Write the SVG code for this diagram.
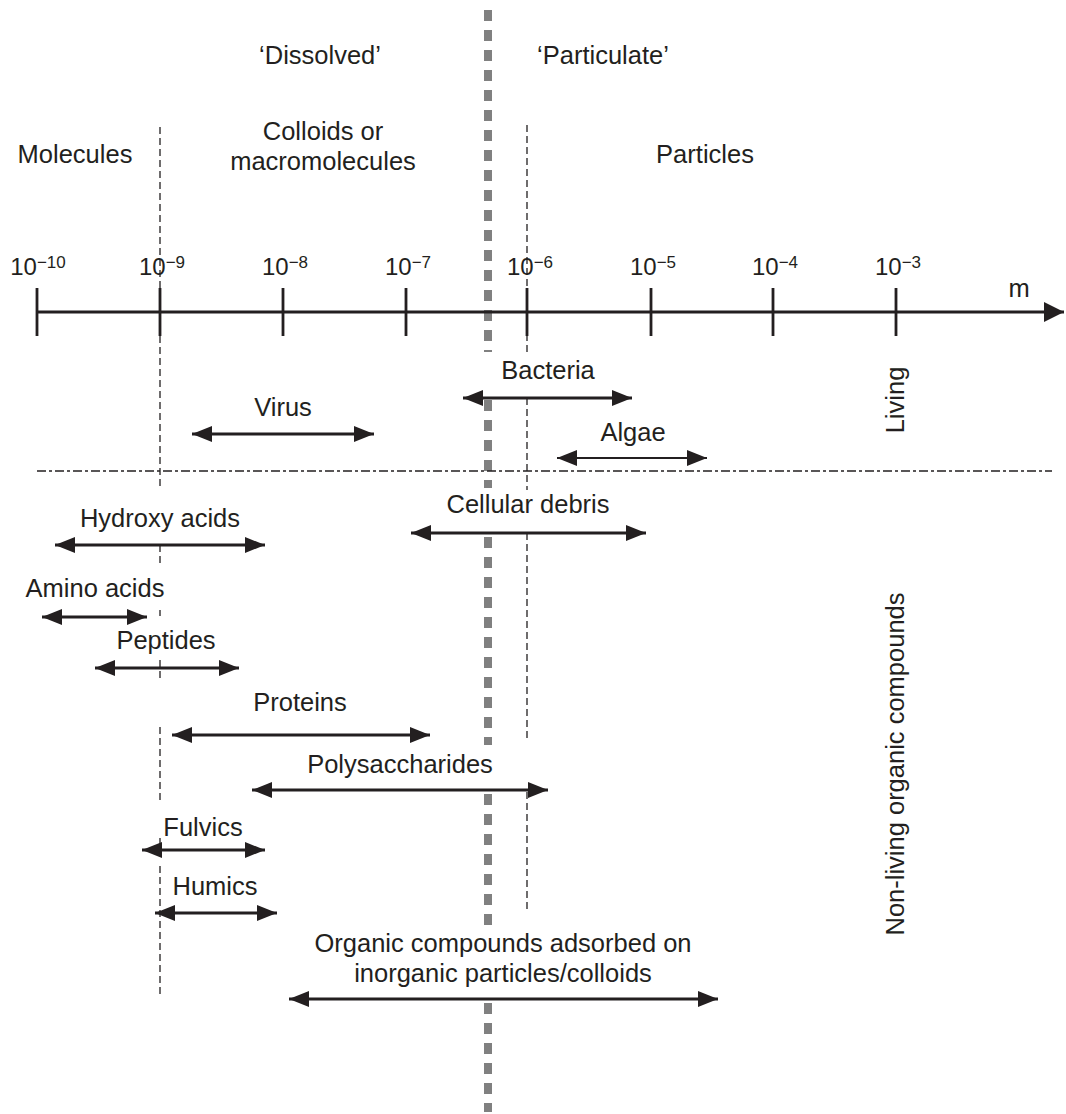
<svg xmlns="http://www.w3.org/2000/svg" width="1066" height="1114" viewBox="0 0 1066 1114">
<defs>
<marker id="ah" viewBox="0 0 20 16" refX="20" refY="8" markerWidth="20" markerHeight="16" markerUnits="userSpaceOnUse" orient="auto-start-reverse">
<path d="M0,0 L20,8 L0,16 Z" fill="#231f20"/>
</marker>
<marker id="axh" viewBox="0 0 20 20" refX="20" refY="10" markerWidth="20" markerHeight="20" markerUnits="userSpaceOnUse" orient="auto">
<path d="M0,0 L20,10 L0,20 Z" fill="#231f20"/>
</marker>
<style>
text{font-family:"Liberation Sans",Arial,sans-serif;font-size:25.5px;fill:#231f20;text-anchor:middle}
.tl{font-size:24px}
.sup{font-size:17px}
.arr{stroke:#231f20;stroke-width:3;fill:none;marker-start:url(#ah);marker-end:url(#ah)}
.thin{stroke-width:1.8}
.vd{stroke:#231f20;stroke-width:1.3;stroke-dasharray:7,4;fill:none}
.gd{stroke:#808080;stroke-width:8;stroke-dasharray:11,9;fill:none}
.tick{stroke:#231f20;stroke-width:2.8}
</style>
</defs>
<rect width="1066" height="1114" fill="#fff"/>

<g id="guides">
<path class="gd" d="M488,10 V352 M488,400 V488 M488,537 V745 M488,794 V925 M488,1003 V1112"/>
<path class="vd" d="M160,127 V488 M160,545 V565 M160,610 V616 M160,660 V678 M160,727 V800 M160,838 V844 M160,866 V997"/>
<path class="vd" d="M527,125 V352 M527,398 V490 M527,533 V740 M527,792 V912"/>
<line x1="37" y1="471" x2="1052" y2="471" stroke="#231f20" stroke-width="1.3" stroke-dasharray="9,3,3,3"/>
</g>

<g id="axis">
<line x1="37" y1="312" x2="1064" y2="312" stroke="#231f20" stroke-width="2.8" marker-end="url(#axh)"/>
<path class="tick" d="M37,288 V336 M160,288 V336 M283,288 V336 M406,288 V336 M527,288 V336 M651,288 V336 M773,288 V336 M896,288 V336"/>
<text class="tl" x="38" y="275">10<tspan class="sup" dy="-7">−10</tspan></text>
<text class="tl" x="162" y="275">10<tspan class="sup" dy="-7">−9</tspan></text>
<text class="tl" x="285" y="275">10<tspan class="sup" dy="-7">−8</tspan></text>
<text class="tl" x="408" y="275">10<tspan class="sup" dy="-7">−7</tspan></text>
<text class="tl" x="530" y="275">10<tspan class="sup" dy="-7">−6</tspan></text>
<text class="tl" x="653" y="275">10<tspan class="sup" dy="-7">−5</tspan></text>
<text class="tl" x="775" y="275">10<tspan class="sup" dy="-7">−4</tspan></text>
<text class="tl" x="898" y="275">10<tspan class="sup" dy="-7">−3</tspan></text>
<text x="1019" y="297">m</text>
</g>

<g id="headers">
<text x="320" y="64">‘Dissolved’</text>
<text x="603" y="64">‘Particulate’</text>
<text x="75" y="163">Molecules</text>
<text x="323" y="140">Colloids or</text>
<text x="323" y="170">macromolecules</text>
<text x="705" y="163">Particles</text>
<text transform="translate(904,400) rotate(-90)" x="0" y="0">Living</text>
<text transform="translate(904,764) rotate(-90)" x="0" y="0">Non-living organic compounds</text>
</g>

<g id="bacteria"><text x="548" y="379">Bacteria</text></g>
<g id="virus"><text x="283" y="416">Virus</text></g>
<g id="algae"><text x="633" y="441">Algae</text></g>
<g id="cellular-debris"><text x="528" y="513">Cellular debris</text></g>
<g id="hydroxy-acids"><text x="160" y="527">Hydroxy acids</text></g>
<g id="amino-acids"><text x="95" y="597">Amino acids</text></g>
<g id="peptides"><text x="166" y="649">Peptides</text></g>
<g id="proteins"><text x="300" y="711">Proteins</text></g>
<g id="polysaccharides"><text x="400" y="773">Polysaccharides</text></g>
<g id="fulvics"><text x="203" y="836">Fulvics</text></g>
<g id="humics"><text x="215" y="895">Humics</text></g>
<g id="adsorbed"><text x="503" y="952">Organic compounds adsorbed on</text><text x="503" y="982">inorganic particles/colloids</text></g>

<g id="connectors">
<line class="arr" x1="463" y1="398" x2="632" y2="398"/>
<line class="arr" x1="192" y1="434" x2="374" y2="434"/>
<line class="arr thin" x1="557" y1="458" x2="707" y2="458"/>
<line class="arr" x1="411" y1="533" x2="646" y2="533"/>
<line class="arr" x1="55" y1="545" x2="265" y2="545"/>
<line class="arr" x1="42" y1="617" x2="147" y2="617"/>
<line class="arr" x1="95" y1="668" x2="239" y2="668"/>
<line class="arr" x1="172" y1="735" x2="430" y2="735"/>
<line class="arr" x1="252" y1="790" x2="548" y2="790"/>
<line class="arr" x1="142" y1="850" x2="265" y2="850"/>
<line class="arr" x1="155" y1="913" x2="277" y2="913"/>
<line class="arr" x1="289" y1="999" x2="718" y2="999"/>
</g>
</svg>
